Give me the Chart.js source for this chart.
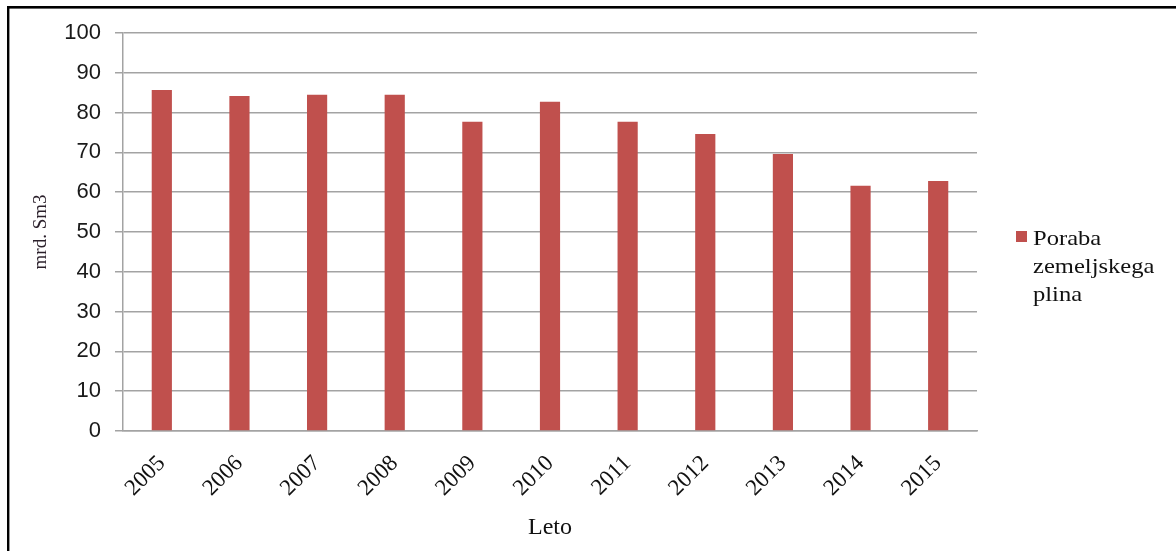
<!DOCTYPE html>
<html>
<head>
<meta charset="utf-8">
<script src="https://cdn.jsdelivr.net/npm/chart.js@4"></script>
<style>
  html, body { margin: 0; padding: 0; background: #fff; }
  #wrap { width: 1176px; height: 551px; }
</style>
</head>
<body>
<div id="wrap"><canvas id="gasChart" width="1176" height="551"></canvas></div>
<script>
const years = ["2005", "2006", "2007", "2008", "2009", "2010", "2011", "2012", "2013", "2014", "2015"];
const consumption = [85.7, 84.2, 84.5, 84.5, 77.7, 82.7, 77.7, 74.6, 69.6, 61.6, 62.8];
const seriesName = "Poraba zemeljskega plina";
const yTicks = [0, 10, 20, 30, 40, 50, 60, 70, 80, 90, 100];

const barColor = "#C0504D";
const gridColor = "#a3a3a3";
const serif = "'Liberation Serif', 'Times New Roman', serif";

// white page with the black frame on the top and left edges
const framePlugin = {
  id: "frame",
  beforeDraw(chart) {
    const ctx = chart.ctx;
    ctx.save();
    ctx.fillStyle = "#fff";
    ctx.fillRect(0, 0, chart.width, chart.height);
    ctx.fillStyle = "#000";
    ctx.fillRect(7, 6, chart.width - 7, 2.6);
    ctx.fillRect(7, 6, 2.4, chart.height - 6);
    ctx.restore();
  }
};

// legend on the right, one word per line
const sideLegend = {
  id: "sideLegend",
  afterDraw(chart) {
    const ds = chart.data.datasets[0];
    const ctx = chart.ctx;
    const x = 1016, y = 231;
    ctx.save();
    ctx.fillStyle = ds.backgroundColor;
    ctx.fillRect(x, y, 11, 11);
    ctx.fillStyle = "#111";
    ctx.font = "21px " + serif;
    ctx.textBaseline = "alphabetic";
    ds.label.split(" ").forEach((word, i) => {
      ctx.save();
      ctx.translate(x + 17, 245 + i * 28);
      ctx.scale(1.17, 1);
      ctx.fillText(word, 0, 0);
      ctx.restore();
    });
    ctx.restore();
  }
};

new Chart(document.getElementById("gasChart"), {
  type: "bar",
  data: {
    labels: years,
    datasets: [{
      label: seriesName,
      data: consumption,
      backgroundColor: barColor,
      borderWidth: 0,
      barPercentage: 0.26,
      categoryPercentage: 1
    }]
  },
  options: {
    responsive: false,
    animation: false,
    layout: { padding: { top: 33, right: 199, left: 0, bottom: 0 } },
    plugins: {
      legend: { display: false },
      tooltip: { enabled: false }
    },
    scales: {
      x: {
        grid: { display: false, drawTicks: false },
        border: { display: true, color: gridColor, width: 1.5 },
        ticks: {
          color: "#111",
          font: { family: serif, size: 23 },
          minRotation: 45,
          maxRotation: 45,
          padding: 19
        },
        title: {
          display: true,
          text: "Leto",
          color: "#111",
          font: { family: serif, size: 24 },
          padding: { top: 0, bottom: 9 }
        },
        afterFit(scale) { scale.height = 120; }
      },
      y: {
        min: 0,
        max: 100,
        afterBuildTicks(scale) { scale.ticks = yTicks.map(v => ({ value: v })); },
        grid: { color: gridColor, lineWidth: 1.5, tickLength: 8, drawTicks: true },
        border: { display: true, color: gridColor, width: 1.5 },
        ticks: {
          color: "#1a1a1a",
          font: { family: "'Liberation Sans', Arial, sans-serif", size: 22 },
          padding: 14
        },
        title: {
          display: true,
          text: "mrd. Sm3",
          color: "#2a1f2a",
          font: { family: serif, size: 19 },
          padding: { top: 30, bottom: 0 }
        },
        afterFit(scale) { scale.width = 123; }
      }
    }
  },
  plugins: [framePlugin, sideLegend]
});
</script>
</body>
</html>
